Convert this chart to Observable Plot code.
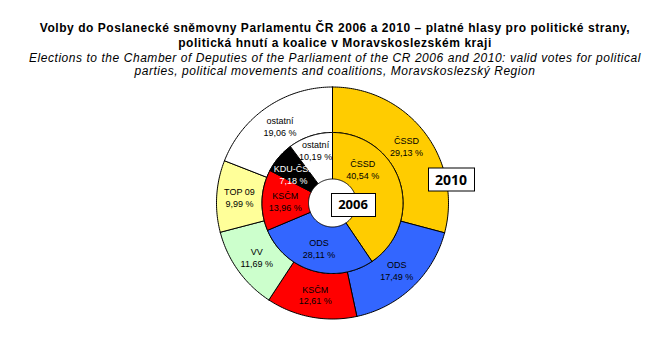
<!DOCTYPE html>
<html><head><meta charset="utf-8">
<script src="https://cdn.jsdelivr.net/npm/d3@7"></script>
<script src="https://cdn.jsdelivr.net/npm/@observablehq/plot@0.6"></script>
<style>
body{margin:0;background:#fff;width:670px;height:358px;overflow:hidden;font-family:"Liberation Sans",Arial,sans-serif;color:#000}
#head{height:80px;text-align:center;box-sizing:border-box;padding-top:21px;white-space:nowrap}
.t{font-weight:bold;font-size:12px;line-height:15px;letter-spacing:0.55px}
.s{font-style:italic;font-size:12px;line-height:13.3px;letter-spacing:0.55px;margin-top:1px}
#chart svg{display:block}
</style></head><body>
<div id="head">
<div class="t">Volby do Poslanecké sněmovny Parlamentu ČR 2006 a 2010 – platné hlasy pro politické strany,<br>politická hnutí a koalice v Moravskoslezském kraji</div>
<div class="s">Elections to the Chamber of Deputies of the Parliament of the CR 2006 and 2010: valid votes for political<br>parties, political movements and coalitions, Moravskoslezský Region</div>
</div>
<div id="chart"></div>
<script>
// ---- data ----
const parties2010 = ["ČSSD", "ODS", "KSČM", "VV", "TOP 09", "ostatní"];
const votes2010 = [29.13, 17.49, 12.61, 11.69, 9.99, 19.06];
const parties2006 = ["ČSSD", "ODS", "KSČM", "KDU-ČSL", "ostatní"];
const votes2006 = [40.54, 28.11, 13.96, 7.18, 10.19];
const years = ["2006", "2010"];
const partyColors = {"ČSSD": "#FFCC00", "ODS": "#3366FF", "KSČM": "#FF0000", "VV": "#CCFFCC", "TOP 09": "#FFFF99", "KDU-ČSL": "#000000", "ostatní": "#FFFFFF"};

// ---- geometry (unit radius) ----
const R_OUT = 1, R_MID = 70.5 / 116, R_IN = 24 / 116;
function slices(names, vals, r0, r1, year) {
  const total = d3.sum(vals);
  let c = 0;
  return names.map((n, i) => {
    const a0 = c / total * 2 * Math.PI; c += vals[i];
    const a1 = c / total * 2 * Math.PI;
    return {name: n, value: vals[i], a0, a1, r0, r1, year};
  });
}
function outline(s) {
  const pts = [];
  const n = Math.max(2, Math.ceil((s.a1 - s.a0) / (Math.PI / 180)));
  for (let k = 0; k <= n; k++) { const a = s.a0 + (s.a1 - s.a0) * k / n; pts.push([s.r1 * Math.sin(a), s.r1 * Math.cos(a)]); }
  for (let k = n; k >= 0; k--) { const a = s.a0 + (s.a1 - s.a0) * k / n; pts.push([s.r0 * Math.sin(a), s.r0 * Math.cos(a)]); }
  pts.push(pts[0]);
  return pts;
}
const outer = slices(parties2010, votes2010, R_MID, R_OUT, "2010");
const inner = slices(parties2006, votes2006, R_IN, R_MID, "2006");
const all = [...outer, ...inner];
const fmt = v => v.toFixed(2).replace(".", ",") + " %";
const labels = all.map(s => {
  const m = (s.a0 + s.a1) / 2, r = (s.r0 + s.r1) / 2;
  return {...s, lx: r * Math.sin(m), ly: r * Math.cos(m), text: s.name + "\n" + fmt(s.value)};
});
const isNudged = d => d.year === "2006" && (d.name === "ČSSD" || d.name === "ostatní");
const textOpts = {x: "lx", y: "ly", text: "text", fontSize: 9, lineHeight: 1.3, fontFamily: "Liberation Sans, Arial, sans-serif"};

const cx = 332, cy = 122.5, R = 116;
const plot = Plot.plot({
  width: 670, height: 278,
  margin: 0,
  x: {domain: [-1, 1], range: [cx - R, cx + R], axis: null},
  y: {domain: [-1, 1], range: [cy + R, cy - R], axis: null},
  style: {background: "white", overflow: "visible"},
  marks: [
    ...all.map(s => Plot.line(outline(s), {x: d => d[0], y: d => d[1], fill: partyColors[s.name], stroke: "black", strokeWidth: 1, strokeLinejoin: "round"})),
    Plot.text(labels.filter(d => d.name !== "KDU-ČSL" && !isNudged(d)), {...textOpts, fill: "black"}),
    Plot.text(labels.filter(d => d.name === "KDU-ČSL"), {...textOpts, fill: "white", dx: -3, dy: 2}),
    Plot.text(labels.filter(d => d.year === "2006" && d.name === "ČSSD"), {...textOpts, fill: "black", dx: -15, dy: -20}),
    Plot.text(labels.filter(d => d.year === "2006" && d.name === "ostatní"), {...textOpts, fill: "black", dx: -2, dy: -8}),
    Plot.text([years[0]], {x: () => 0, y: () => 0, text: d => d, dx: 20.5, dy: 2, fontSize: 13, fontWeight: "bold", fill: "black", className: "yr"}),
    Plot.text([years[1]], {x: () => 0, y: () => 0, text: d => d, dx: 118.5, dy: -22.5, fontSize: 14, fontWeight: "bold", fill: "black", className: "yr"})
  ]
});
document.getElementById("chart").appendChild(plot);
// boxes behind year labels
plot.querySelectorAll(".yr text").forEach(t => {
  const b = t.getBBox();
  const pw = 7;
  const r = document.createElementNS("http://www.w3.org/2000/svg", "rect");
  const x0 = Math.round(b.x - pw) + 0.5, y0 = Math.round(b.y + b.height / 2 - 11.5) + 0.5;
  r.setAttribute("x", x0); r.setAttribute("y", y0);
  r.setAttribute("width", Math.round(b.width + 2 * pw)); r.setAttribute("height", 23);
  r.setAttribute("fill", "white"); r.setAttribute("stroke", "black"); r.setAttribute("stroke-width", 1);
  if (t.getAttribute("transform")) r.setAttribute("transform", t.getAttribute("transform"));
  t.parentNode.insertBefore(r, t);
});
</script>
</body></html>
